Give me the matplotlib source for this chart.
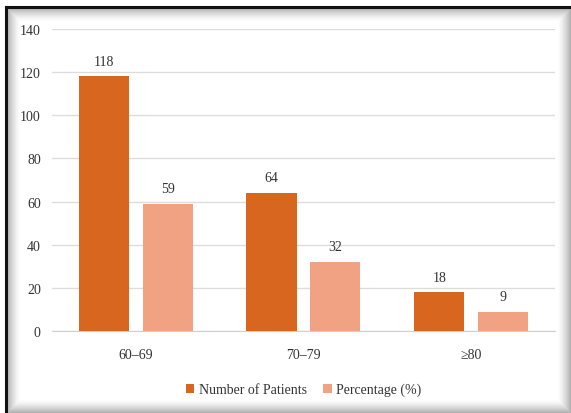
import numpy as np
import matplotlib.pyplot as plt
from matplotlib.patches import Rectangle

# Pacientes por grupo de edad
grupos = ['60\u201369', '70\u201379', '\u226580']
num_pacientes = [118, 64, 18]
porcentaje = [59, 32, 9]

plt.rcParams['font.family'] = ['Liberation Serif', 'DejaVu Serif']

W, H = 571, 414
fig = plt.figure(figsize=(W / 100, H / 100), dpi=100)
fig.patch.set_facecolor('white')

# Marco con sombra interior (coordenadas en pixeles)
x0, y0, x1, y1 = 6, 0, W, H - 8
for k in range(14):
    a = 0.45 * (1 - k / 14) ** 1.6
    fig.add_artist(Rectangle(((x0 + k) / W, (y0 + k) / H), (x1 - x0 - 2 * k) / W,
                             (y1 - y0 - 2 * k) / H, transform=fig.transFigure,
                             facecolor='none', edgecolor=(0.35, 0.35, 0.35, a),
                             linewidth=0.9, zorder=1))
fig.add_artist(plt.Line2D([x0 / W, x0 / W], [0, y1 / H], transform=fig.transFigure,
                          color='#111111', linewidth=2.2, zorder=1))
fig.add_artist(plt.Line2D([x0 / W, 1], [y1 / H, y1 / H], transform=fig.transFigure,
                          color='#111111', linewidth=2.2, zorder=1))

ax = fig.add_axes([0.091, 0.198, 0.881, 0.7295])
ax.set_zorder(2)
ax.patch.set_alpha(0)

x = np.arange(len(grupos))
w = 0.30
off = 0.19
b1 = ax.bar(x - off, num_pacientes, w, color='#d9661f', label='Number of Patients', zorder=3)
b2 = ax.bar(x + off, porcentaje, w, color='#f0a283', label='Percentage (%)', zorder=3)

for rects, vals in ((b1, num_pacientes), (b2, porcentaje)):
    for r, v in zip(rects, vals):
        ax.text(r.get_x() + r.get_width() / 2, v + 4, str(v), ha='center', va='bottom',
                fontsize=10, color='#333333')

ax.set_xlim(-0.5, 2.5)
ax.set_ylim(0, 140)
ax.set_yticks(range(0, 141, 20))
ax.set_xticks(x)
ax.set_xticklabels(grupos)
ax.yaxis.grid(True, color='#dddddd', linewidth=1, zorder=0)
ax.set_axisbelow(True)
for s in ('top', 'right', 'left'):
    ax.spines[s].set_visible(False)
ax.spines['bottom'].set_color('#d0d0d0')
ax.tick_params(length=0, labelsize=10, colors='#333333', pad=8)
ax.tick_params(axis='x', pad=12)

ax.legend(loc='upper center', bbox_to_anchor=(0.5, -0.13), ncol=2, frameon=False,
          fontsize=10, handlelength=0.6, handleheight=0.6, columnspacing=1.2,
          handletextpad=0.3, labelcolor='#333333')

fig.savefig('out.png', dpi=100)
